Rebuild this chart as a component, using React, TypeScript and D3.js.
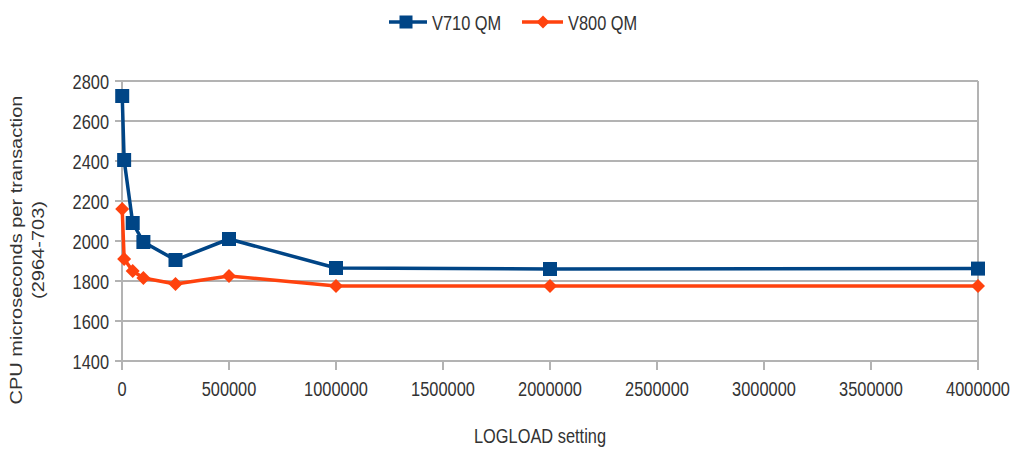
import React from "react";
import * as d3 from "d3";

const logload = [1000, 10000, 50000, 100000, 250000, 500000, 1000000, 2000000, 4000000];
const v710 = [2725, 2405, 2090, 1995, 1905, 2010, 1865, 1860, 1862];
const v800 = [2160, 1910, 1850, 1815, 1785, 1825, 1775, 1775, 1775];
const xTicks = [0, 500000, 1000000, 1500000, 2000000, 2500000, 3000000, 3500000, 4000000];
const yTicks = [1400, 1600, 1800, 2000, 2200, 2400, 2600, 2800];
const seriesNames = ["V710 QM", "V800 QM"];

const BLUE = "#004586";
const ORANGE = "#ff420e";
const GRID = "#b3b3b3";
const FONT = "'Liberation Sans', Arial, sans-serif";
const SX = 0.78;

function T({ x, y, anchor = "middle", size = 21, children, fill = "#333" }: any) {
  return (
    <text
      transform={`translate(${x},${y}) scale(${SX},1)`}
      textAnchor={anchor}
      fontFamily={FONT}
      fontSize={size}
      fill={fill}
    >
      {children}
    </text>
  );
}

export default function App() {
  const W = 1016, H = 449;
  const x = d3.scaleLinear().domain([0, 4000000]).range([122, 978]);
  const y = d3.scaleLinear().domain([1400, 2800]).range([361, 81]);
  const line = d3.line<number>().x((_, i) => x(logload[i])).y((d) => y(d));

  const square = (cx: number, cy: number, s: number, key: any) => (
    <rect key={key} x={cx - s / 2} y={cy - s / 2} width={s} height={s} fill={BLUE} />
  );
  const diamond = (cx: number, cy: number, s: number, key: any) => (
    <path key={key} d={`M${cx},${cy - s}L${cx + s},${cy}L${cx},${cy + s}L${cx - s},${cy}Z`} fill={ORANGE} />
  );

  return (
    <svg width={W} height={H} style={{ position: "absolute", left: 0, top: 0, background: "#fff" }}>
      {/* grid */}
      {yTicks.map((t) => (
        <line key={"g" + t} x1={x(0)} x2={x(4000000)} y1={y(t)} y2={y(t)} stroke={GRID} strokeWidth={2} />
      ))}
      {/* right border */}
      <line x1={x(4000000)} x2={x(4000000)} y1={y(2800)} y2={y(1400) + 9} stroke={GRID} strokeWidth={2} />
      {/* y axis */}
      <line x1={x(0)} x2={x(0)} y1={y(2800)} y2={y(1400) + 9} stroke={GRID} strokeWidth={2} />
      {yTicks.map((t) => (
        <line key={"yt" + t} x1={x(0) - 7} x2={x(0)} y1={y(t)} y2={y(t)} stroke={GRID} strokeWidth={2} />
      ))}
      {yTicks.map((t) => (
        <T key={"yl" + t} x={109} y={y(t) + 7.5} anchor="end">{t}</T>
      ))}
      {/* x ticks */}
      {xTicks.map((t) => (
        <line key={"xt" + t} x1={x(t)} x2={x(t)} y1={y(1400)} y2={y(1400) + 9} stroke={GRID} strokeWidth={2} />
      ))}
      {xTicks.map((t) => (
        <T key={"xl" + t} x={x(t)} y={396}>{t}</T>
      ))}
      {/* lines */}
      <path d={line(v800) || ""} fill="none" stroke={ORANGE} strokeWidth={3.5} strokeLinejoin="round" />
      <path d={line(v710) || ""} fill="none" stroke={BLUE} strokeWidth={3.5} strokeLinejoin="round" />
      {v800.map((v, i) => diamond(x(logload[i]), y(v), 7, "d" + i))}
      {v710.map((v, i) => square(x(logload[i]), y(v), 14, "s" + i))}
      {/* legend */}
      <line x1={389} x2={427} y1={22} y2={22} stroke={BLUE} strokeWidth={3.5} />
      {square(406, 22, 13, "ls")}
      <T x={432} y={30} anchor="start">{seriesNames[0]}</T>
      <line x1={522} x2={563} y1={22} y2={22} stroke={ORANGE} strokeWidth={3.5} />
      {diamond(543, 22, 6.5, "ld")}
      <T x={568} y={30} anchor="start">{seriesNames[1]}</T>
      {/* axis titles */}
      <T x={540} y={443}>LOGLOAD setting</T>
      <g transform="translate(0,250) rotate(-90)">
        <text transform="translate(0,22) scale(1,0.8)" textAnchor="middle" fontFamily={FONT} fontSize={20} fill="#333">
          CPU microseconds per transaction
        </text>
        <text transform="translate(0,44) scale(1,0.8)" textAnchor="middle" fontFamily={FONT} fontSize={20} fill="#333">
          (2964-703)
        </text>
      </g>
    </svg>
  );
}
